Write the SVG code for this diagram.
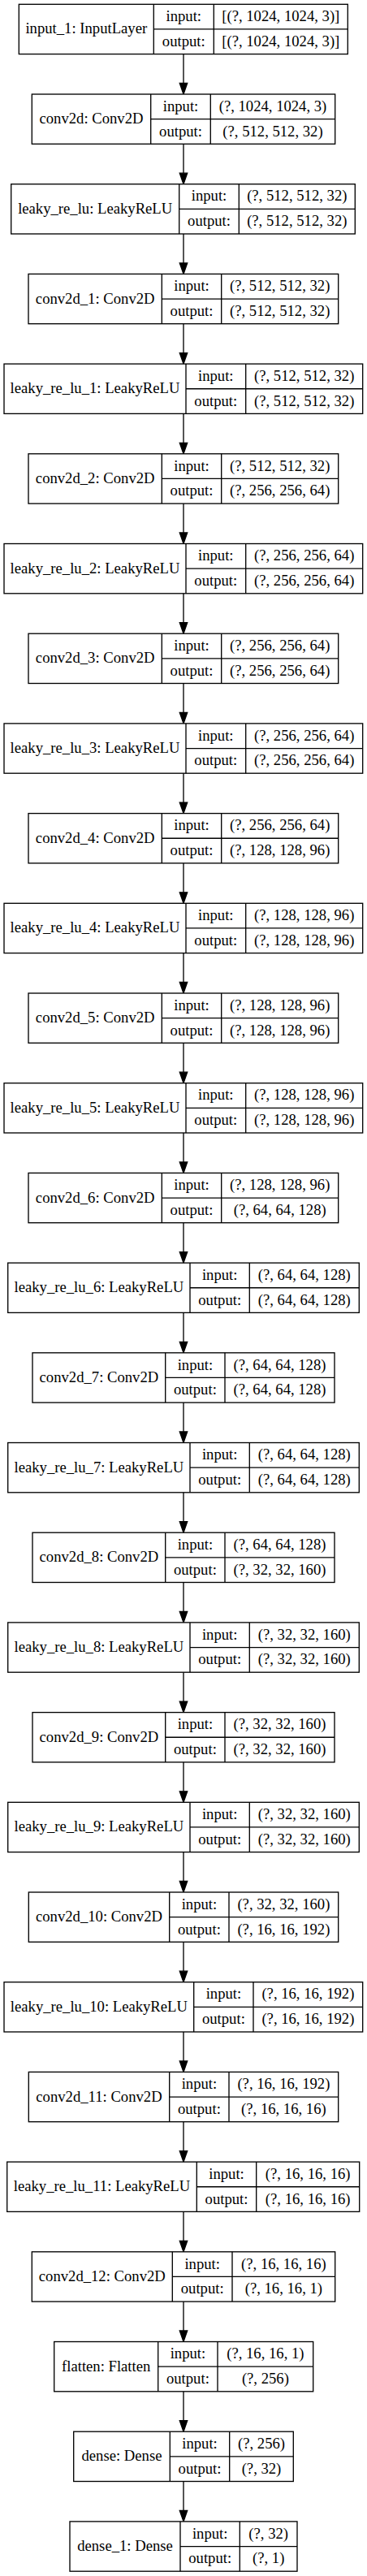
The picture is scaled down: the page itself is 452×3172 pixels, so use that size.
<svg xmlns="http://www.w3.org/2000/svg" width="452" height="3172" viewBox="0 0 452 3172">
<style>
.b{fill:#fff;stroke:#000;stroke-width:1.33}
.d{stroke:#000;stroke-width:1.33;fill:none}
text{font-family:"Liberation Serif","Times New Roman",serif;font-size:18.67px;fill:#000;text-anchor:middle}
.e line{stroke:#000;stroke-width:1.33}
.e polygon{fill:#000;stroke:#000;stroke-width:1.33}
</style>
<rect width="452" height="3172" fill="#fff"/>
<g id="connectors" class="e">
<line x1="226" y1="66.6" x2="226" y2="102.5"/><polygon points="226,116 221.3,102.5 230.7,102.5"/>
<line x1="226" y1="177.3" x2="226" y2="213.2"/><polygon points="226,226.7 221.3,213.2 230.7,213.2"/>
<line x1="226" y1="288" x2="226" y2="323.9"/><polygon points="226,337.4 221.3,323.9 230.7,323.9"/>
<line x1="226" y1="398.7" x2="226" y2="434.6"/><polygon points="226,448.1 221.3,434.6 230.7,434.6"/>
<line x1="226" y1="509.4" x2="226" y2="545.3"/><polygon points="226,558.8 221.3,545.3 230.7,545.3"/>
<line x1="226" y1="620.1" x2="226" y2="656"/><polygon points="226,669.5 221.3,656 230.7,656"/>
<line x1="226" y1="730.8" x2="226" y2="766.7"/><polygon points="226,780.2 221.3,766.7 230.7,766.7"/>
<line x1="226" y1="841.5" x2="226" y2="877.4"/><polygon points="226,890.9 221.3,877.4 230.7,877.4"/>
<line x1="226" y1="952.2" x2="226" y2="988.1"/><polygon points="226,1001.6 221.3,988.1 230.7,988.1"/>
<line x1="226" y1="1062.9" x2="226" y2="1098.8"/><polygon points="226,1112.3 221.3,1098.8 230.7,1098.8"/>
<line x1="226" y1="1173.6" x2="226" y2="1209.5"/><polygon points="226,1223 221.3,1209.5 230.7,1209.5"/>
<line x1="226" y1="1284.3" x2="226" y2="1320.2"/><polygon points="226,1333.7 221.3,1320.2 230.7,1320.2"/>
<line x1="226" y1="1395" x2="226" y2="1430.9"/><polygon points="226,1444.4 221.3,1430.9 230.7,1430.9"/>
<line x1="226" y1="1505.7" x2="226" y2="1541.6"/><polygon points="226,1555.1 221.3,1541.6 230.7,1541.6"/>
<line x1="226" y1="1616.4" x2="226" y2="1652.3"/><polygon points="226,1665.8 221.3,1652.3 230.7,1652.3"/>
<line x1="226" y1="1727.1" x2="226" y2="1763"/><polygon points="226,1776.5 221.3,1763 230.7,1763"/>
<line x1="226" y1="1837.8" x2="226" y2="1873.7"/><polygon points="226,1887.2 221.3,1873.7 230.7,1873.7"/>
<line x1="226" y1="1948.5" x2="226" y2="1984.4"/><polygon points="226,1997.9 221.3,1984.4 230.7,1984.4"/>
<line x1="226" y1="2059.2" x2="226" y2="2095.1"/><polygon points="226,2108.6 221.3,2095.1 230.7,2095.1"/>
<line x1="226" y1="2169.9" x2="226" y2="2205.8"/><polygon points="226,2219.3 221.3,2205.8 230.7,2205.8"/>
<line x1="226" y1="2280.6" x2="226" y2="2316.5"/><polygon points="226,2330 221.3,2316.5 230.7,2316.5"/>
<line x1="226" y1="2391.3" x2="226" y2="2427.2"/><polygon points="226,2440.7 221.3,2427.2 230.7,2427.2"/>
<line x1="226" y1="2502" x2="226" y2="2537.9"/><polygon points="226,2551.4 221.3,2537.9 230.7,2537.9"/>
<line x1="226" y1="2612.7" x2="226" y2="2648.6"/><polygon points="226,2662.1 221.3,2648.6 230.7,2648.6"/>
<line x1="226" y1="2723.4" x2="226" y2="2759.3"/><polygon points="226,2772.8 221.3,2759.3 230.7,2759.3"/>
<line x1="226" y1="2834.1" x2="226" y2="2870"/><polygon points="226,2883.5 221.3,2870 230.7,2870"/>
<line x1="226" y1="2944.8" x2="226" y2="2980.7"/><polygon points="226,2994.2 221.3,2980.7 230.7,2980.7"/>
<line x1="226" y1="3055.5" x2="226" y2="3091.4"/><polygon points="226,3104.9 221.3,3091.4 230.7,3091.4"/>
</g>

<g id="input_1" transform="translate(0,5.3)">
<rect class="b" x="23.3" y="0" width="405" height="61.3"/>
<path class="d" d="M189.3,0V61.3M263.3,0V61.3M189.3,30.65H428.3"/>
<text x="106.3" y="36.2">input_1: InputLayer</text>
<text x="226.3" y="20.8">input:</text><text x="226.3" y="51.5">output:</text>
<text x="345.8" y="20.8">[(?, 1024, 1024, 3)]</text><text x="345.8" y="51.5">[(?, 1024, 1024, 3)]</text>
</g>

<g id="conv2d" transform="translate(0,116)">
<rect class="b" x="39.3" y="0" width="373.4" height="61.3"/>
<path class="d" d="M185.7,0V61.3M259.3,0V61.3M185.7,30.65H412.7"/>
<text x="112.5" y="36.2">conv2d: Conv2D</text>
<text x="222.5" y="20.8">input:</text><text x="222.5" y="51.5">output:</text>
<text x="336" y="20.8">(?, 1024, 1024, 3)</text><text x="336" y="51.5">(?, 512, 512, 32)</text>
</g>

<g id="leaky_re_lu" transform="translate(0,226.7)">
<rect class="b" x="13.7" y="0" width="423.6" height="61.3"/>
<path class="d" d="M220.7,0V61.3M294.3,0V61.3M220.7,30.65H437.3"/>
<text x="117.2" y="36.2">leaky_re_lu: LeakyReLU</text>
<text x="257.5" y="20.8">input:</text><text x="257.5" y="51.5">output:</text>
<text x="365.8" y="20.8">(?, 512, 512, 32)</text><text x="365.8" y="51.5">(?, 512, 512, 32)</text>
</g>

<g id="conv2d_1" transform="translate(0,337.4)">
<rect class="b" x="35" y="0" width="381.7" height="61.3"/>
<path class="d" d="M199.3,0V61.3M272.7,0V61.3M199.3,30.65H416.7"/>
<text x="117.2" y="36.2">conv2d_1: Conv2D</text>
<text x="236" y="20.8">input:</text><text x="236" y="51.5">output:</text>
<text x="344.7" y="20.8">(?, 512, 512, 32)</text><text x="344.7" y="51.5">(?, 512, 512, 32)</text>
</g>

<g id="leaky_re_lu_1" transform="translate(0,448.1)">
<rect class="b" x="5" y="0" width="441.7" height="61.3"/>
<path class="d" d="M229,0V61.3M302.7,0V61.3M229,30.65H446.7"/>
<text x="117" y="36.2">leaky_re_lu_1: LeakyReLU</text>
<text x="265.8" y="20.8">input:</text><text x="265.8" y="51.5">output:</text>
<text x="374.7" y="20.8">(?, 512, 512, 32)</text><text x="374.7" y="51.5">(?, 512, 512, 32)</text>
</g>

<g id="conv2d_2" transform="translate(0,558.8)">
<rect class="b" x="35" y="0" width="381.7" height="61.3"/>
<path class="d" d="M199.3,0V61.3M272.7,0V61.3M199.3,30.65H416.7"/>
<text x="117.2" y="36.2">conv2d_2: Conv2D</text>
<text x="236" y="20.8">input:</text><text x="236" y="51.5">output:</text>
<text x="344.7" y="20.8">(?, 512, 512, 32)</text><text x="344.7" y="51.5">(?, 256, 256, 64)</text>
</g>

<g id="leaky_re_lu_2" transform="translate(0,669.5)">
<rect class="b" x="5" y="0" width="441.7" height="61.3"/>
<path class="d" d="M229,0V61.3M302.7,0V61.3M229,30.65H446.7"/>
<text x="117" y="36.2">leaky_re_lu_2: LeakyReLU</text>
<text x="265.8" y="20.8">input:</text><text x="265.8" y="51.5">output:</text>
<text x="374.7" y="20.8">(?, 256, 256, 64)</text><text x="374.7" y="51.5">(?, 256, 256, 64)</text>
</g>

<g id="conv2d_3" transform="translate(0,780.2)">
<rect class="b" x="35" y="0" width="381.7" height="61.3"/>
<path class="d" d="M199.3,0V61.3M272.7,0V61.3M199.3,30.65H416.7"/>
<text x="117.2" y="36.2">conv2d_3: Conv2D</text>
<text x="236" y="20.8">input:</text><text x="236" y="51.5">output:</text>
<text x="344.7" y="20.8">(?, 256, 256, 64)</text><text x="344.7" y="51.5">(?, 256, 256, 64)</text>
</g>

<g id="leaky_re_lu_3" transform="translate(0,890.9)">
<rect class="b" x="5" y="0" width="441.7" height="61.3"/>
<path class="d" d="M229,0V61.3M302.7,0V61.3M229,30.65H446.7"/>
<text x="117" y="36.2">leaky_re_lu_3: LeakyReLU</text>
<text x="265.8" y="20.8">input:</text><text x="265.8" y="51.5">output:</text>
<text x="374.7" y="20.8">(?, 256, 256, 64)</text><text x="374.7" y="51.5">(?, 256, 256, 64)</text>
</g>

<g id="conv2d_4" transform="translate(0,1001.6)">
<rect class="b" x="35" y="0" width="381.7" height="61.3"/>
<path class="d" d="M199.3,0V61.3M272.7,0V61.3M199.3,30.65H416.7"/>
<text x="117.2" y="36.2">conv2d_4: Conv2D</text>
<text x="236" y="20.8">input:</text><text x="236" y="51.5">output:</text>
<text x="344.7" y="20.8">(?, 256, 256, 64)</text><text x="344.7" y="51.5">(?, 128, 128, 96)</text>
</g>

<g id="leaky_re_lu_4" transform="translate(0,1112.3)">
<rect class="b" x="5" y="0" width="441.7" height="61.3"/>
<path class="d" d="M229,0V61.3M302.7,0V61.3M229,30.65H446.7"/>
<text x="117" y="36.2">leaky_re_lu_4: LeakyReLU</text>
<text x="265.8" y="20.8">input:</text><text x="265.8" y="51.5">output:</text>
<text x="374.7" y="20.8">(?, 128, 128, 96)</text><text x="374.7" y="51.5">(?, 128, 128, 96)</text>
</g>

<g id="conv2d_5" transform="translate(0,1223)">
<rect class="b" x="35" y="0" width="381.7" height="61.3"/>
<path class="d" d="M199.3,0V61.3M272.7,0V61.3M199.3,30.65H416.7"/>
<text x="117.2" y="36.2">conv2d_5: Conv2D</text>
<text x="236" y="20.8">input:</text><text x="236" y="51.5">output:</text>
<text x="344.7" y="20.8">(?, 128, 128, 96)</text><text x="344.7" y="51.5">(?, 128, 128, 96)</text>
</g>

<g id="leaky_re_lu_5" transform="translate(0,1333.7)">
<rect class="b" x="5" y="0" width="441.7" height="61.3"/>
<path class="d" d="M229,0V61.3M302.7,0V61.3M229,30.65H446.7"/>
<text x="117" y="36.2">leaky_re_lu_5: LeakyReLU</text>
<text x="265.8" y="20.8">input:</text><text x="265.8" y="51.5">output:</text>
<text x="374.7" y="20.8">(?, 128, 128, 96)</text><text x="374.7" y="51.5">(?, 128, 128, 96)</text>
</g>

<g id="conv2d_6" transform="translate(0,1444.4)">
<rect class="b" x="35" y="0" width="381.7" height="61.3"/>
<path class="d" d="M199.3,0V61.3M272.7,0V61.3M199.3,30.65H416.7"/>
<text x="117.2" y="36.2">conv2d_6: Conv2D</text>
<text x="236" y="20.8">input:</text><text x="236" y="51.5">output:</text>
<text x="344.7" y="20.8">(?, 128, 128, 96)</text><text x="344.7" y="51.5">(?, 64, 64, 128)</text>
</g>

<g id="leaky_re_lu_6" transform="translate(0,1555.1)">
<rect class="b" x="9.7" y="0" width="432.6" height="61.3"/>
<path class="d" d="M234,0V61.3M307.3,0V61.3M234,30.65H442.3"/>
<text x="121.9" y="36.2">leaky_re_lu_6: LeakyReLU</text>
<text x="270.7" y="20.8">input:</text><text x="270.7" y="51.5">output:</text>
<text x="374.8" y="20.8">(?, 64, 64, 128)</text><text x="374.8" y="51.5">(?, 64, 64, 128)</text>
</g>

<g id="conv2d_7" transform="translate(0,1665.8)">
<rect class="b" x="40" y="0" width="372" height="61.3"/>
<path class="d" d="M203.7,0V61.3M277,0V61.3M203.7,30.65H412"/>
<text x="121.9" y="36.2">conv2d_7: Conv2D</text>
<text x="240.4" y="20.8">input:</text><text x="240.4" y="51.5">output:</text>
<text x="344.5" y="20.8">(?, 64, 64, 128)</text><text x="344.5" y="51.5">(?, 64, 64, 128)</text>
</g>

<g id="leaky_re_lu_7" transform="translate(0,1776.5)">
<rect class="b" x="9.7" y="0" width="432.6" height="61.3"/>
<path class="d" d="M234,0V61.3M307.3,0V61.3M234,30.65H442.3"/>
<text x="121.9" y="36.2">leaky_re_lu_7: LeakyReLU</text>
<text x="270.7" y="20.8">input:</text><text x="270.7" y="51.5">output:</text>
<text x="374.8" y="20.8">(?, 64, 64, 128)</text><text x="374.8" y="51.5">(?, 64, 64, 128)</text>
</g>

<g id="conv2d_8" transform="translate(0,1887.2)">
<rect class="b" x="40" y="0" width="372" height="61.3"/>
<path class="d" d="M203.7,0V61.3M277,0V61.3M203.7,30.65H412"/>
<text x="121.9" y="36.2">conv2d_8: Conv2D</text>
<text x="240.4" y="20.8">input:</text><text x="240.4" y="51.5">output:</text>
<text x="344.5" y="20.8">(?, 64, 64, 128)</text><text x="344.5" y="51.5">(?, 32, 32, 160)</text>
</g>

<g id="leaky_re_lu_8" transform="translate(0,1997.9)">
<rect class="b" x="9.7" y="0" width="432.6" height="61.3"/>
<path class="d" d="M234,0V61.3M307.3,0V61.3M234,30.65H442.3"/>
<text x="121.9" y="36.2">leaky_re_lu_8: LeakyReLU</text>
<text x="270.7" y="20.8">input:</text><text x="270.7" y="51.5">output:</text>
<text x="374.8" y="20.8">(?, 32, 32, 160)</text><text x="374.8" y="51.5">(?, 32, 32, 160)</text>
</g>

<g id="conv2d_9" transform="translate(0,2108.6)">
<rect class="b" x="40" y="0" width="372" height="61.3"/>
<path class="d" d="M203.7,0V61.3M277,0V61.3M203.7,30.65H412"/>
<text x="121.9" y="36.2">conv2d_9: Conv2D</text>
<text x="240.4" y="20.8">input:</text><text x="240.4" y="51.5">output:</text>
<text x="344.5" y="20.8">(?, 32, 32, 160)</text><text x="344.5" y="51.5">(?, 32, 32, 160)</text>
</g>

<g id="leaky_re_lu_9" transform="translate(0,2219.3)">
<rect class="b" x="9.7" y="0" width="432.6" height="61.3"/>
<path class="d" d="M234,0V61.3M307.3,0V61.3M234,30.65H442.3"/>
<text x="121.9" y="36.2">leaky_re_lu_9: LeakyReLU</text>
<text x="270.7" y="20.8">input:</text><text x="270.7" y="51.5">output:</text>
<text x="374.8" y="20.8">(?, 32, 32, 160)</text><text x="374.8" y="51.5">(?, 32, 32, 160)</text>
</g>

<g id="conv2d_10" transform="translate(0,2330)">
<rect class="b" x="35.3" y="0" width="381.4" height="61.3"/>
<path class="d" d="M208.7,0V61.3M282,0V61.3M208.7,30.65H416.7"/>
<text x="122" y="36.2">conv2d_10: Conv2D</text>
<text x="245.4" y="20.8">input:</text><text x="245.4" y="51.5">output:</text>
<text x="349.4" y="20.8">(?, 32, 32, 160)</text><text x="349.4" y="51.5">(?, 16, 16, 192)</text>
</g>

<g id="leaky_re_lu_10" transform="translate(0,2440.7)">
<rect class="b" x="5" y="0" width="441.7" height="61.3"/>
<path class="d" d="M238.7,0V61.3M312,0V61.3M238.7,30.65H446.7"/>
<text x="121.9" y="36.2">leaky_re_lu_10: LeakyReLU</text>
<text x="275.4" y="20.8">input:</text><text x="275.4" y="51.5">output:</text>
<text x="379.4" y="20.8">(?, 16, 16, 192)</text><text x="379.4" y="51.5">(?, 16, 16, 192)</text>
</g>

<g id="conv2d_11" transform="translate(0,2551.4)">
<rect class="b" x="35.3" y="0" width="381.4" height="61.3"/>
<path class="d" d="M208.7,0V61.3M282,0V61.3M208.7,30.65H416.7"/>
<text x="122" y="36.2">conv2d_11: Conv2D</text>
<text x="245.4" y="20.8">input:</text><text x="245.4" y="51.5">output:</text>
<text x="349.4" y="20.8">(?, 16, 16, 192)</text><text x="349.4" y="51.5">(?, 16, 16, 16)</text>
</g>

<g id="leaky_re_lu_11" transform="translate(0,2662.1)">
<rect class="b" x="8.7" y="0" width="434" height="61.3"/>
<path class="d" d="M242.3,0V61.3M315.7,0V61.3M242.3,30.65H442.7"/>
<text x="125.5" y="36.2">leaky_re_lu_11: LeakyReLU</text>
<text x="279" y="20.8">input:</text><text x="279" y="51.5">output:</text>
<text x="379.2" y="20.8">(?, 16, 16, 16)</text><text x="379.2" y="51.5">(?, 16, 16, 16)</text>
</g>

<g id="conv2d_12" transform="translate(0,2772.8)">
<rect class="b" x="39.3" y="0" width="373.4" height="61.3"/>
<path class="d" d="M212.3,0V61.3M286,0V61.3M212.3,30.65H412.7"/>
<text x="125.8" y="36.2">conv2d_12: Conv2D</text>
<text x="249.2" y="20.8">input:</text><text x="249.2" y="51.5">output:</text>
<text x="349.4" y="20.8">(?, 16, 16, 16)</text><text x="349.4" y="51.5">(?, 16, 16, 1)</text>
</g>

<g id="flatten" transform="translate(0,2883.5)">
<rect class="b" x="66.7" y="0" width="319" height="61.3"/>
<path class="d" d="M194.7,0V61.3M268,0V61.3M194.7,30.65H385.7"/>
<text x="130.7" y="36.2">flatten: Flatten</text>
<text x="231.4" y="20.8">input:</text><text x="231.4" y="51.5">output:</text>
<text x="326.9" y="20.8">(?, 16, 16, 1)</text><text x="326.9" y="51.5">(?, 256)</text>
</g>

<g id="dense" transform="translate(0,2994.2)">
<rect class="b" x="90.7" y="0" width="270.6" height="61.3"/>
<path class="d" d="M209.3,0V61.3M282.7,0V61.3M209.3,30.65H361.3"/>
<text x="150" y="36.2">dense: Dense</text>
<text x="246" y="20.8">input:</text><text x="246" y="51.5">output:</text>
<text x="322" y="20.8">(?, 256)</text><text x="322" y="51.5">(?, 32)</text>
</g>

<g id="dense_1" transform="translate(0,3104.9)">
<rect class="b" x="86" y="0" width="280" height="61.3"/>
<path class="d" d="M222,0V61.3M295.3,0V61.3M222,30.65H366"/>
<text x="154" y="36.2">dense_1: Dense</text>
<text x="258.7" y="20.8">input:</text><text x="258.7" y="51.5">output:</text>
<text x="330.7" y="20.8">(?, 32)</text><text x="330.7" y="51.5">(?, 1)</text>
</g>
</svg>
